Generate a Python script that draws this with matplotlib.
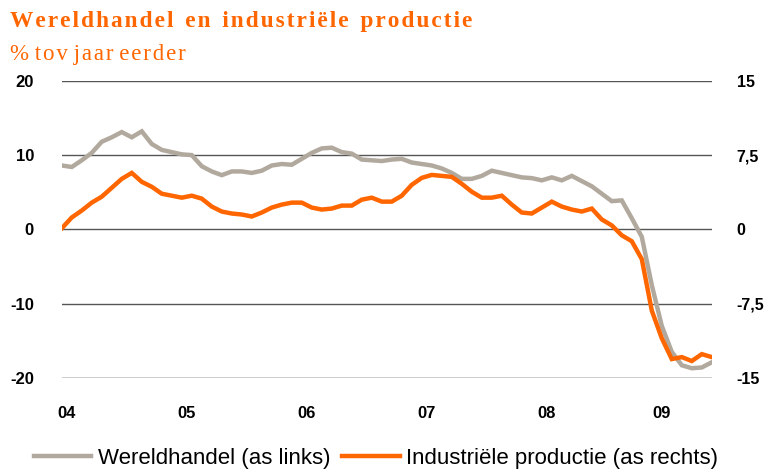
import matplotlib
matplotlib.use('Agg')
import matplotlib.pyplot as plt

# Maandelijkse reeksen, jan 2004 - jun 2009
wereldhandel = [8.6, 8.4, 9.3, 10.3, 11.8, 12.4, 13.1, 12.4, 13.2, 11.5, 10.7, 10.4,
                10.1, 10.0, 8.5, 7.8, 7.3, 7.8, 7.8, 7.6, 7.9, 8.6, 8.8, 8.7,
                9.5, 10.3, 10.9, 11.0, 10.4, 10.2, 9.4, 9.3, 9.2, 9.4, 9.5, 9.0,
                8.8, 8.6, 8.2, 7.6, 6.8, 6.8, 7.2, 7.9, 7.6, 7.3, 7.0, 6.9,
                6.6, 7.0, 6.6, 7.2, 6.5, 5.8, 4.8, 3.8, 3.9, 1.5, -1.0, -7.5,
                -13.0, -16.5, -18.3, -18.7, -18.6, -17.9]
productie = [0.1, 1.2, 1.9, 2.7, 3.3, 4.2, 5.1, 5.7, 4.8, 4.3, 3.6, 3.4,
             3.2, 3.4, 3.1, 2.3, 1.8, 1.6, 1.5, 1.3, 1.7, 2.2, 2.5, 2.7,
             2.7, 2.2, 2.0, 2.1, 2.4, 2.4, 3.0, 3.2, 2.8, 2.8, 3.4, 4.5,
             5.2, 5.5, 5.4, 5.3, 4.6, 3.8, 3.2, 3.2, 3.4, 2.5, 1.7, 1.6,
             2.2, 2.8, 2.3, 2.0, 1.8, 2.1, 1.0, 0.4, -0.6, -1.2, -3.0, -8.2,
             -11.0, -13.1, -12.9, -13.3, -12.6, -12.9]
jaren = ['04', '05', '06', '07', '08', '09']
links_ticks = [-20, -10, 0, 10, 20]
rechts_ticks = [-15, -7.5, 0, 7.5, 15]
rechts_labels = ['-15', '-7,5', '0', '7,5', '15']

grijs = '#B1A99D'
oranje = '#FF6600'


def spatieer(tekst, sep='\u200a', woordsep='  '):
    # letters iets uit elkaar zetten, woorden met een gewone spatie
    return woordsep.join(sep.join(w) for w in tekst.split(' '))


fig = plt.figure(figsize=(7.72, 4.70), dpi=100)
ax = fig.add_axes([0.080, 0.196, 0.842, 0.632])
ax2 = ax.twinx()

x = list(range(len(wereldhandel)))
l1, = ax.plot(x, wereldhandel, color=grijs, lw=3.2, solid_joinstyle='miter', zorder=3)
l2, = ax2.plot(x, productie, color=oranje, lw=3.2, solid_joinstyle='miter', zorder=4)

ax.set_xlim(0, 65)
ax.set_ylim(-20, 20)
ax2.set_ylim(-15, 15)
ax.set_yticks(links_ticks)
ax.set_yticklabels([str(t) for t in links_ticks], fontweight='bold', fontsize=12,
                   family='Liberation Sans')
ax2.set_yticks(rechts_ticks)
ax2.set_yticklabels(rechts_labels, fontweight='bold', fontsize=11.5, family='Liberation Sans')
ax.set_xticks([0.5, 12.5, 24.5, 36.5, 48.5, 60])
ax.set_xticklabels(jaren, fontweight='bold', fontsize=12, family='Liberation Sans')

for t in links_ticks:
    ax.axhline(t, color='#000000' if t == -20 else '#555555', lw=1.0, zorder=1)

for a in (ax, ax2):
    for s in a.spines.values():
        s.set_visible(False)
    a.tick_params(length=0)
ax.tick_params(axis='y', pad=20)
ax2.tick_params(axis='y', pad=18)
ax.tick_params(axis='x', pad=20)

fig.text(0.013, 0.955, spatieer('Wereldhandel en industriële productie'),
         color=oranje, fontsize=16.8, fontweight='bold', family='Liberation Serif', va='center')
fig.text(0.013, 0.885, spatieer('% tov jaar eerder', woordsep=' '), color=oranje, fontsize=16.5,
         family='Liberation Serif', va='center')

fig.legend([l1, l2], ['Wereldhandel (as links)', 'Industriële productie (as rechts)'],
           loc='center', bbox_to_anchor=(0.487, 0.025), ncol=2, frameon=False,
           prop={'family': 'Liberation Sans', 'size': 16}, handlelength=2.6,
           handletextpad=0.3, columnspacing=0.5)

fig.savefig('out.png', dpi=100)
